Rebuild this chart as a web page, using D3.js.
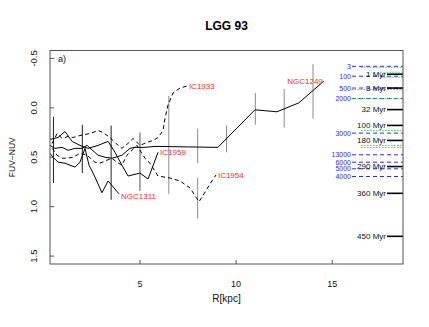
<!DOCTYPE html>
<html><head><meta charset="utf-8">
<script src="https://cdn.jsdelivr.net/npm/d3@7"></script>
<style>body{margin:0;background:#fff}svg{display:block;font-family:"Liberation Sans",Arial,Helvetica,sans-serif}</style>
</head><body>
<script>
// ---- data ----
const title = "LGG 93";
const xTicks = [5, 10, 15];
const yTicks = [-0.5, 0.0, 0.5, 1.0, 1.5];
const yTickLabels = ["-0.5", "0.0", "0.5", "1.0", "1.5"];

const galaxyNames = ["NGC1249", "IC1959", "NGC1311", "IC1933", "IC1954"];
const galaxyDashed = [false, false, false, true, true];
const ngc1249R = [0.32,0.58,0.95,1.26,1.62,1.99,2.25,2.82,3.18,3.54,4.06,4.48,4.74,5.26,5.78,9.05,10.98,12.12,13.26,14.56];
const ngc1249C = [0.38,0.41,0.40,0.43,0.41,0.41,0.38,0.48,0.50,0.51,0.48,0.41,0.40,0.40,0.39,0.40,0.02,0.04,-0.05,-0.27];
const ic1959R = [0.32,0.74,1.10,1.47,1.88,2.30,2.82,3.34,3.70,4.06,4.38,5.00,5.42,5.94];
const ic1959C = [0.32,0.30,0.24,0.34,0.38,0.41,0.38,0.34,0.45,0.58,0.69,0.66,0.72,0.45];
const ngc1311R = [0.32,0.48,0.74,1.10,1.36,1.62,1.88,2.14,2.35,2.56,2.82,3.02,3.34,3.91];
const ngc1311C = [0.46,0.50,0.55,0.56,0.58,0.60,0.55,0.41,0.58,0.66,0.77,0.86,0.74,0.87];
const ic1933R = [0.43,0.69,0.95,1.26,1.52,1.88,2.40,2.82,3.08,3.44,3.75,4.06,4.38,4.64,5.00,5.36,5.68,5.94,6.20,6.30,6.46,6.72,7.08,7.44];
const ic1933C = [0.36,0.26,0.31,0.29,0.30,0.28,0.26,0.23,0.25,0.30,0.36,0.41,0.36,0.31,0.38,0.35,0.33,0.30,0.23,0.11,-0.03,-0.15,-0.20,-0.22];
const ic1954R = [0.43,0.69,0.95,1.21,1.52,1.88,2.25,2.66,2.92,3.28,3.54,3.80,4.06,4.32,4.58,4.84,5.26,5.52,5.94,6.56,7.08,7.60,8.07,8.33,8.64,8.95];
const ic1954C = [0.41,0.48,0.51,0.51,0.50,0.46,0.48,0.55,0.56,0.53,0.51,0.55,0.58,0.48,0.43,0.38,0.51,0.56,0.69,0.71,0.74,0.81,0.95,0.87,0.77,0.68];

const errR  = [0.5, 2, 3.5, 5, 6.5, 8, 8, 9.5, 11, 12.5, 14];
const errLo = [0.09, 0.17, 0.18, 0.25, -0.12, 0.21, 0.71, 0.18, -0.15, -0.19, -0.44];
const errHi = [0.76, 0.66, 0.93, 0.84, 0.87, 0.56, 1.12, 0.45, 0.17, 0.20, 0.11];

const ageLabels = ["1 Myr","3 Myr","32 Myr","100 Myr","180 Myr","290 Myr","360 Myr","450 Myr"];
const ageColor  = [-0.34, -0.20, 0.018, 0.178, 0.33, 0.594, 0.865, 1.30];
const modelLabels = ["3","100","500","2000","3000","13000","6000","5000","4000"];
const modelColor  = [-0.42, -0.32, -0.20, -0.093, 0.256, 0.475, 0.55, 0.617, 0.695];
const greenColor  = [-0.41, -0.36, -0.31, -0.185, -0.096, 0.228, 0.38, 0.40];
const greenFromR  = [16.5, 17.5, 17.5, 16.0, 16.0, 16.5, 16.5, 16.5];

// ---- layout ----
const W = 429, H = 327;
const L = 50, R = 403, T = 50.5, B = 264;
const x = d3.scaleLinear().domain([1 - 0.68, 18 + 0.68]).range([L, R]);
const y = d3.scaleLinear().domain([-0.5 - 0.08, 1.5 + 0.08]).range([T, B]);

const svg = d3.select("body").append("svg").attr("width", W).attr("height", H);

const series = [
  [ngc1249R, ngc1249C], [ic1959R, ic1959C], [ngc1311R, ngc1311C], [ic1933R, ic1933C], [ic1954R, ic1954C]
];

const clipId = "plotclip";
svg.append("clipPath").attr("id", clipId).append("rect").attr("x", L).attr("y", T).attr("width", R - L).attr("height", B - T);
const plot = svg.append("g").attr("clip-path", `url(#${clipId})`);

// error bars
plot.selectAll("line.err").data(errR).enter().append("line")
  .attr("x1", d => x(d)).attr("x2", d => x(d))
  .attr("y1", (d, i) => y(errLo[i])).attr("y2", (d, i) => y(errHi[i]))
  .attr("stroke", d => d <= 3.5 ? "#222" : (d <= 5 ? "#555" : "#8a8a8a"))
  .attr("stroke-width", 1);

// galaxy profiles
const line = d3.line().x(d => x(d[0])).y(d => y(d[1]));
series.forEach((s, i) => {
  const pts = s[0].map((r, j) => [r, s[1][j]]);
  plot.append("path").attr("d", line(pts)).attr("fill", "none")
    .attr("stroke", "#000").attr("stroke-width", 1)
    .attr("stroke-dasharray", galaxyDashed[i] ? "4,3" : null);
});

// galaxy labels at profile ends
series.forEach((s, i) => {
  const n = s[0].length;
  const ex = x(s[0][n - 1]), ey = y(s[1][n - 1]);
  const endAnchor = galaxyNames[i] === "NGC1249";
  svg.append("text").text(galaxyNames[i])
    .attr("x", endAnchor ? ex - 1 : ex + 2).attr("y", ey + (galaxyNames[i] === "NGC1311" ? 2 : 0))
    .attr("dy", "0.35em").attr("text-anchor", endAnchor ? "end" : "start")
    .attr("font-size", 8).attr("fill", "#ff2a2a");
});

// model reference lines (blue dashed) + labels
const bx0 = 352;
svg.selectAll("line.blue").data(modelColor).enter().append("line")
  .attr("x1", bx0).attr("x2", R).attr("y1", d => y(d)).attr("y2", d => y(d))
  .attr("stroke", "#2a2aff").attr("stroke-width", 1).attr("stroke-dasharray", "4,3");
svg.selectAll("text.blue").data(modelLabels).enter().append("text")
  .text(d => d).attr("x", bx0 - 1).attr("y", (d, i) => y(modelColor[i]))
  .attr("dy", "0.35em").attr("text-anchor", "end").attr("font-size", 7).attr("fill", "#2a2aff");

// green dotted lines
svg.selectAll("line.green").data(greenColor).enter().append("line")
  .attr("x1", (d, i) => x(greenFromR[i])).attr("x2", R).attr("y1", d => y(d)).attr("y2", d => y(d))
  .attr("stroke", "#33dd33").attr("stroke-width", 1).attr("stroke-dasharray", "1.5,1.5");

// age ticks (black) + labels
svg.selectAll("line.age").data(ageColor).enter().append("line")
  .attr("x1", R - 16).attr("x2", R).attr("y1", d => y(d)).attr("y2", d => y(d))
  .attr("stroke", "#000").attr("stroke-width", 1.6);
svg.selectAll("text.age").data(ageLabels).enter().append("text")
  .text(d => d).attr("x", R - 17).attr("y", (d, i) => y(ageColor[i]))
  .attr("dy", "0.35em").attr("text-anchor", "end").attr("font-size", 8).attr("fill", "#111");

// frame
svg.append("rect").attr("x", L).attr("y", T).attr("width", R - L).attr("height", B - T)
  .attr("fill", "none").attr("stroke", "#555").attr("stroke-width", 1);

// x axis ticks (inward)
svg.selectAll("line.xt").data(xTicks).enter().append("line")
  .attr("x1", d => x(d)).attr("x2", d => x(d)).attr("y1", B).attr("y2", B - 4)
  .attr("stroke", "#555");
svg.selectAll("text.xt").data(xTicks).enter().append("text")
  .text(d => d).attr("x", d => x(d)).attr("y", 286.5)
  .attr("text-anchor", "middle").attr("font-size", 9).attr("fill", "#111");

// y axis ticks (inward)
svg.selectAll("line.yt").data(yTicks).enter().append("line")
  .attr("x1", L).attr("x2", L + 4).attr("y1", d => y(d)).attr("y2", d => y(d))
  .attr("stroke", "#555");
svg.selectAll("text.yt").data(yTicks).enter().append("text")
  .text((d, i) => yTickLabels[i])
  .attr("transform", d => `translate(34,${y(d)}) rotate(-90)`)
  .attr("dy", "0.35em").attr("text-anchor", "middle").attr("font-size", 9.5).attr("fill", "#111");

// panel tag
svg.append("text").text("a)").attr("x", 58).attr("y", y(-0.5)).attr("dy", "0.35em")
  .attr("font-size", 9).attr("fill", "#111");

// axis titles
svg.append("text").text("R[kpc]").attr("x", (L + R) / 2).attr("y", 301.5)
  .attr("text-anchor", "middle").attr("font-size", 10).attr("fill", "#111");
svg.append("text").text("FUV\u2212NUV")
  .attr("transform", `translate(12,${(T + B) / 2}) rotate(-90)`)
  .attr("dy", "0.35em").attr("text-anchor", "middle").attr("font-size", 8.5).attr("fill", "#111");

// title
svg.append("text").text(title).attr("x", (L + R) / 2).attr("y", 29.5)
  .attr("text-anchor", "middle").attr("font-size", 12).attr("font-weight", "bold").attr("fill", "#000");
</script>
</body></html>
